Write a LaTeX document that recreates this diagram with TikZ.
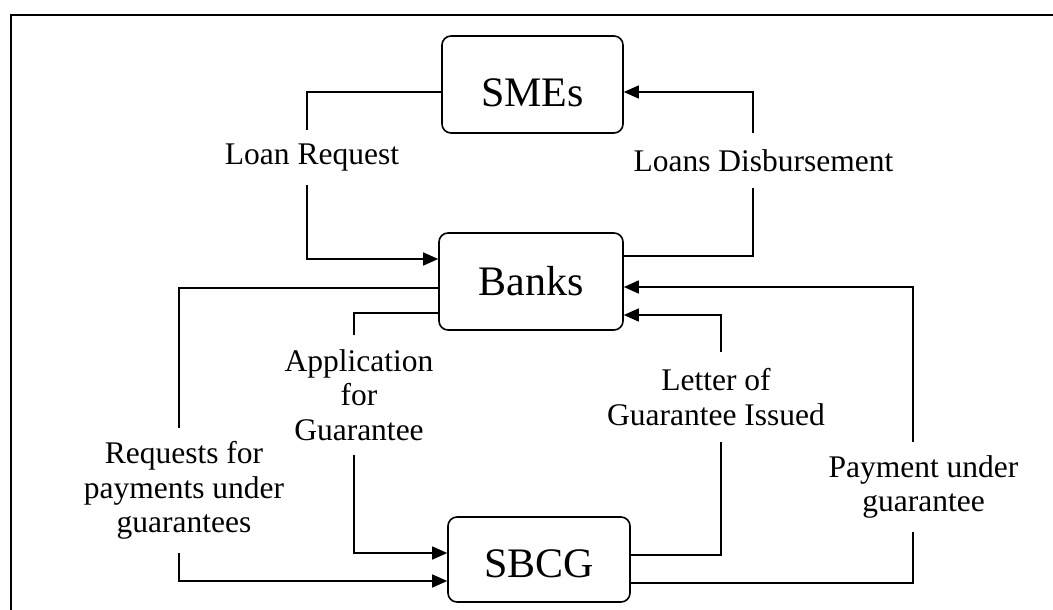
\documentclass[tikz,border=0pt]{standalone}
\usepackage{fontspec}
\setmainfont{Liberation Serif}
\usetikzlibrary{arrows.meta}
\begin{document}
\begin{tikzpicture}[x=1pt,y=-1pt,
  entity/.style={draw, line width=1.6pt, rounded corners=9pt, inner sep=0pt,
    font=\fontsize{42}{46}\selectfont},
  flowlabel/.style={inner sep=0pt, align=center,
    font=\fontsize{31.5}{34.5}\selectfont},
  flow/.style={line width=1.4pt},
  arrowflow/.style={flow, -{Triangle[length=15pt,width=13pt]}},
]
\useasboundingbox (0,0) rectangle (1053,610);
% open frame: top and left rules only
\draw[line width=2.4pt] (1053,15) -- (11,15) -- (11,610);

% parties
\node[entity, minimum width=181pt, minimum height=97pt,
      text height=43.4pt, text depth=0pt] (smes) at (532.5,84.5) {SMEs};
\node[entity, minimum width=184pt, minimum height=97pt] (banks) at (531,281.5) {Banks};
\node[entity, minimum width=182pt, minimum height=85pt,
      text height=35.4pt, text depth=0pt] (sbcg) at (539,559.5) {SBCG};

% flow labels (node height = gap left in the connector)
\node[flowlabel, minimum height=55pt]  (lr)  at (312,157.5) {Loan Request};
\node[flowlabel, minimum height=55pt]  (ld)  at (763.5,160.5) {Loans Disbursement};
\node[flowlabel, minimum height=120pt] (app) at (359,395) {Application\\for\\Guarantee};
\node[flowlabel, minimum height=125pt] (req) at (184,490.5) {Requests for\\payments under\\guarantees};
\node[flowlabel, minimum height=90pt]  (let) at (716,397) {Letter of\\Guarantee Issued};
\node[flowlabel, minimum height=90pt]  (pay) at (923.5,487) {Payment under\\guarantee};

% SMEs <-> Banks
\draw[flow] ([yshift=-7.5pt]smes.west) -| ([xshift=-5pt]lr.north);
\draw[arrowflow] ([xshift=-5pt]lr.south) |- ([yshift=22.5pt]banks.west);
\draw[flow] ([yshift=25.5pt]banks.east) -| ([xshift=-10.5pt]ld.south);
\draw[arrowflow] ([xshift=-10.5pt]ld.north) |- ([yshift=-7.5pt]smes.east);

% Banks -> SBCG
\draw[flow] ([yshift=-31.5pt]banks.west) -| ([xshift=-5pt]app.north);
\draw[arrowflow] ([xshift=-5pt]app.south) |- ([yshift=6.5pt]sbcg.west);
\draw[flow] ([yshift=-6.5pt]banks.west) -| ([xshift=-5pt]req.north);
\draw[arrowflow] ([xshift=-5pt]req.south) |- ([yshift=-21.5pt]sbcg.west);

% SBCG -> Banks
\draw[flow] ([yshift=4.5pt]sbcg.east) -| ([xshift=5pt]let.south);
\draw[arrowflow] ([xshift=5pt]let.north) |- ([yshift=-33.5pt]banks.east);
\draw[flow] ([yshift=-23.5pt]sbcg.east) -| ([xshift=-10.5pt]pay.south);
\draw[arrowflow] ([xshift=-10.5pt]pay.north) |- ([yshift=-5.5pt]banks.east);
\end{tikzpicture}
\end{document}
